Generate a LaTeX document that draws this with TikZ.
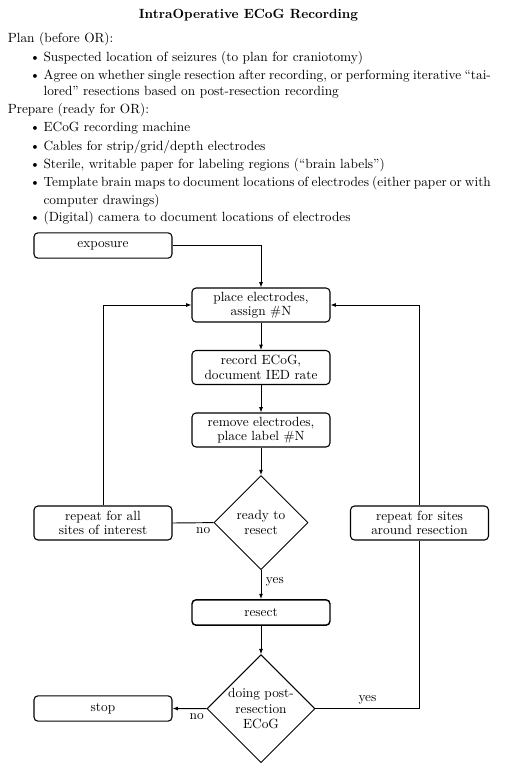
\documentclass[tikz,border=0pt]{standalone}
\usetikzlibrary{shapes.geometric,arrows.meta}
\begin{document}
\begin{tikzpicture}[x=0.75pt,y=-0.75pt,
  txt/.style={anchor=base west,inner sep=0pt},
  bul/.style={anchor=base,inner sep=0pt},
  box/.style={draw,rounded corners=3pt,line width=0.8pt,minimum width=103.5pt,align=center,inner sep=2pt,font=\fontsize{10pt}{10.75pt}\selectfont},
  twoline/.style={box,minimum height=25.5pt},
  oneline/.style={box,minimum height=19pt},
  dec/.style={draw,diamond,aspect=1,line width=0.7pt,inner sep=0pt,align=center,font=\fontsize{10pt}{11.6pt}\selectfont},
  conn/.style={line width=0.7pt},
  arr/.style={conn,-{Latex[length=4pt,width=3pt]}},
  lab/.style={inner sep=3.33pt}]
\useasboundingbox (0,0) rectangle (507,764);
% header text
\node[anchor=base,inner sep=0pt] (title) at (248.5,18) {\textbf{IntraOperative ECoG Recording}};
\node[txt] (plan) at (7.5,42.5) {Plan (before OR):};
\node[bul] (b1) at (35,61.5) {\textbullet};
\node[txt] (i1) at (43.3,61.5) {Suspected location of seizures (to plan for craniotomy)};
\node[bul] (b2) at (35,79.5) {\textbullet};
\node[txt] (i2a) at (43.3,79.5) {\makebox[335.5pt][s]{Agree on whether single resection after recording, or performing iterative ``tai-}};
\node[txt] (i2b) at (43.3,95.5) {lored'' resections based on post-resection recording};
\node[txt] (prep) at (7.5,113) {Prepare (ready for OR):};
\node[bul] (b3) at (35,131.7) {\textbullet};
\node[txt] (i3) at (43.3,131.7) {ECoG recording machine};
\node[bul] (b4) at (35,150) {\textbullet};
\node[txt] (i4) at (43.3,150) {Cables for strip/grid/depth electrodes};
\node[bul] (b5) at (35,168.3) {\textbullet};
\node[txt] (i5) at (43.3,168.3) {Sterile, writable paper for labeling regions (``brain labels'')};
\node[bul] (b6) at (35,186.7) {\textbullet};
\node[txt] (i6a) at (43.3,186.7) {\makebox[335.5pt][s]{Template brain maps to document locations of electrodes (either paper or with}};
\node[txt] (i6b) at (43.3,204.3) {computer drawings)};
\node[bul] (b7) at (35,221) {\textbullet};
\node[txt] (i7) at (43.3,221) {(Digital) camera to document locations of electrodes};
% flowchart
\node[oneline] (expo) at (103,245.5) {exposure};
\node[twoline] (place) at (261,305) {place electrodes,\\assign \#N};
\node[twoline] (rec) at (261,367.5) {record ECoG,\\document IED rate};
\node[twoline] (rem) at (261,430) {remove electrodes,\\place label \#N};
\node[dec,minimum width=70.5pt,minimum height=70.5pt] (ready) at (261,522.6) {ready to\\resect};
\node[twoline] (rep1) at (103,523) {repeat for all\\sites of interest};
\node[twoline] (rep2) at (419.5,523) {repeat for sites\\around resection};
\node[oneline,line width=1.1pt] (resect) at (261,612.5) {resect};
\node[dec,minimum width=81pt,minimum height=81pt] (post) at (261,708.7) {doing post-\\resection\\ECoG};
\node[oneline] (stop) at (103,708.5) {stop};
% connectors
\draw[arr] (expo.east) -| (place.north);
\draw[arr] (place) -- (rec);
\draw[arr] (rec) -- (rem);
\draw[arr] (rem) -- (ready);
\draw[conn] (ready.west) -- node[lab,below,pos=0.25] {no} (rep1.east);
\draw[arr] (rep1.north) |- (place.west);
\draw[arr] (ready.south) -- node[lab,right,pos=0.4] {yes} (resect.north);
\draw[arr] (resect) -- (post);
\draw[arr] (post.west) -- node[lab,below,pos=0.29] {no} (stop.east);
\draw[conn] (post.east) -| node[lab,above,pos=0.25] {yes} (rep2.south);
\draw[arr] (rep2.north) |- (place.east);
\end{tikzpicture}
\end{document}
